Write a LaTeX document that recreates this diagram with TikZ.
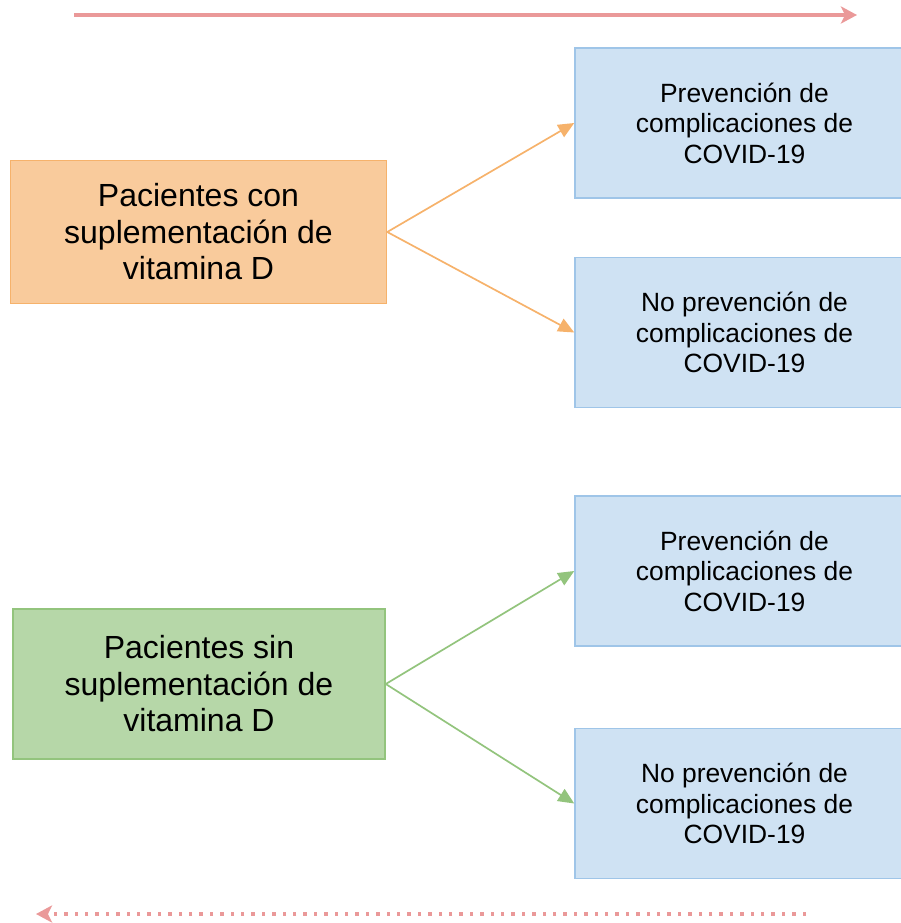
\documentclass[tikz,border=0pt]{standalone}
\usepackage{fontspec}
\setmainfont{Liberation Sans}
\usetikzlibrary{arrows.meta,positioning}

\definecolor{orangefill}{HTML}{F9CB9C}
\definecolor{orangeline}{HTML}{F6B26B}
\definecolor{greenfill}{HTML}{B6D7A8}
\definecolor{greenline}{HTML}{93C47D}
\definecolor{bluefill}{HTML}{CFE2F3}
\definecolor{blueline}{HTML}{9FC5E8}
\definecolor{timeline}{HTML}{EA9999}

\begin{document}
\begin{tikzpicture}[x=1pt, y=-1pt,
    group/.style={draw, line width=1.5pt, align=center, inner sep=0pt, font=\fontsize{32}{36.5}\selectfont},
    result/.style={draw=blueline, fill=bluefill, line width=1.5pt, align=center, inner sep=0pt, minimum width=339pt, minimum height=150pt, font=\fontsize{26.4}{30.5}\selectfont},
    branch/.style={line width=1.7pt, -{Triangle[length=16pt,width=14pt]}},
    timeflow/.style={draw=timeline, line width=3.5pt, -{Stealth[length=16pt,width=17pt,inset=4pt]}}]
    \useasboundingbox (0,0) rectangle (901,923);

    % arrows of time
    \coordinate (fwdstart) at (74,15);
    \coordinate (fwdend) at (857,15);
    \coordinate (backstart) at (806,914);
    \coordinate (backend) at (36,914);
    \draw[timeflow] (fwdstart) -- (fwdend);
    \draw[timeflow, dash pattern=on 3.5pt off 6.9pt] (backstart) -- (backend);

    % groups
    \node[group, draw=orangeline, fill=orangefill, minimum width=376pt, minimum height=143pt] (with) at (198.5,232) {Pacientes con\\suplementación de\\vitamina D};
    \node[group, draw=greenline, fill=greenfill, minimum width=372pt, minimum height=150pt] (without) at (199,684) {Pacientes sin\\suplementación de\\vitamina D};

    % outcomes
    \node[result] (withyes) at (744.5,123) {Prevención de\\complicaciones de\\COVID-19};
    \node[result, below=58pt of withyes] (withno) {No prevención de\\complicaciones de\\COVID-19};
    \node[result] (withoutyes) at (744.5,571) {Prevención de\\complicaciones de\\COVID-19};
    \node[result, below=81pt of withoutyes] (withoutno) {No prevención de\\complicaciones de\\COVID-19};

    \draw[branch, orangeline] (with.east) -- (withyes.west);
    \draw[branch, orangeline] (with.east) -- (withno.west);
    \draw[branch, greenline] (without.east) -- (withoutyes.west);
    \draw[branch, greenline] (without.east) -- (withoutno.west);
\end{tikzpicture}
\end{document}
